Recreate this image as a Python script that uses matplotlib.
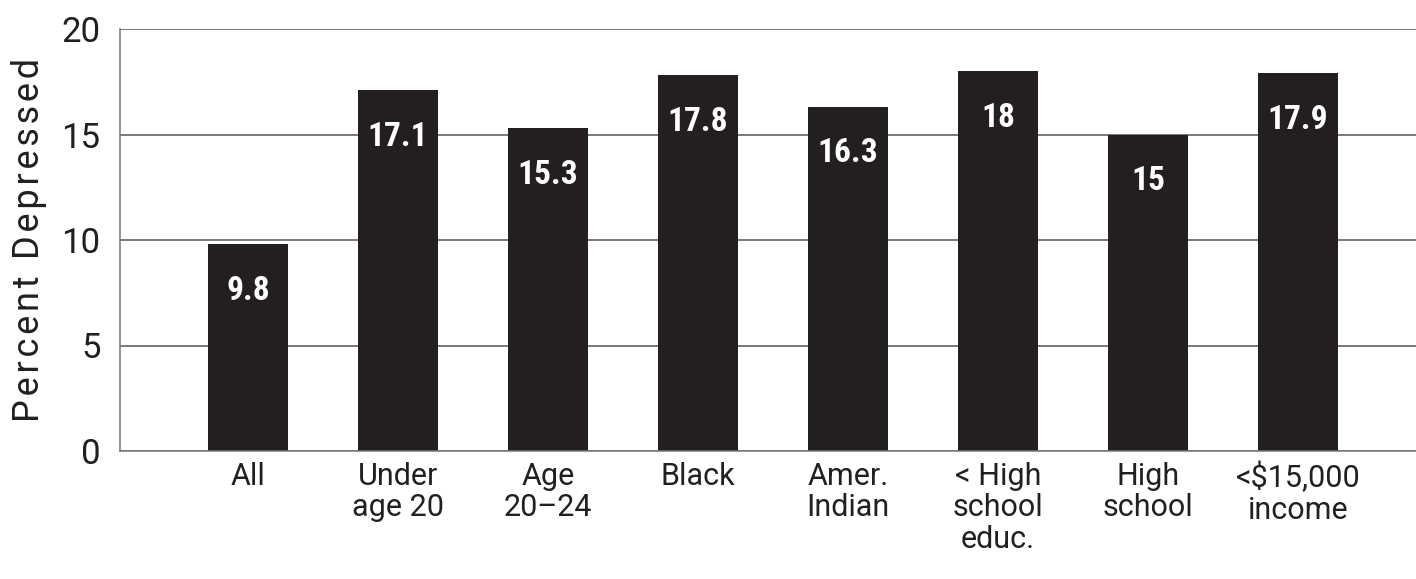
import matplotlib.pyplot as plt
import numpy as np

from matplotlib import rcParams
rcParams['font.family'] = ['Roboto', 'DejaVu Sans']
rcParams['font.size'] = 22

categories = ['All', 'Under\nage 20', 'Age\n20\u201324', 'Black', 'Amer.\nIndian',
              '< High\nschool\neduc.', 'High\nschool', '<$15,000\nincome']
values = [9.8, 17.1, 15.3, 17.8, 16.3, 18, 15, 17.9]
value_labels = ['9.8', '17.1', '15.3', '17.8', '16.3', '18', '15', '17.9']
yticks = [0, 5, 10, 15, 20]
ylabel = 'Percent Depressed'

W, H = 1416, 579
fig = plt.figure(figsize=(W / 100, H / 100), dpi=100)
ax = fig.add_axes([120 / W, (H - 451) / H, (W - 120) / W, (451 - 29) / H])

x = np.arange(len(categories))
ax.bar(x, values, width=0.535, color='#231f20', zorder=2)
for xi, v, lab in zip(x, values, value_labels):
    ax.text(xi, v - 2.2, lab, ha='center', va='center', color='white',
            fontsize=24, fontweight='bold',
            family=['Roboto Condensed', 'DejaVu Sans'], zorder=3)

ax.set_ylim(0, 20)
ax.set_xlim(-0.853, 7.787)
ax.set_yticks(yticks)
ax.set_yticklabels([str(t) for t in yticks], fontsize=25)
ax.set_xticks(x)
ax.set_xticklabels(categories, fontsize=22, linespacing=1.1, va='top')
ax.tick_params(axis='both', length=0, colors='#231f20')
ax.tick_params(axis='y', pad=14)
ax.tick_params(axis='x', pad=8)

ax.grid(axis='y', color='#555555', linewidth=1.1, zorder=0)
ax.set_axisbelow(True)
for side in ['top', 'right']:
    ax.spines[side].set_visible(False)
ax.spines['left'].set_color('#777777')
ax.spines['bottom'].set_color('#777777')
ax.spines['left'].set_linewidth(1.1)
ax.spines['bottom'].set_linewidth(1.1)

# letter-spaced axis title (hair spaces between letters)
ax.set_ylabel('\u200a'.join(ylabel), fontsize=26, color='#231f20')
ax.yaxis.set_label_coords(47 / W, (H - 240) / H, transform=fig.transFigure)

plt.savefig('out.png', dpi=100)
